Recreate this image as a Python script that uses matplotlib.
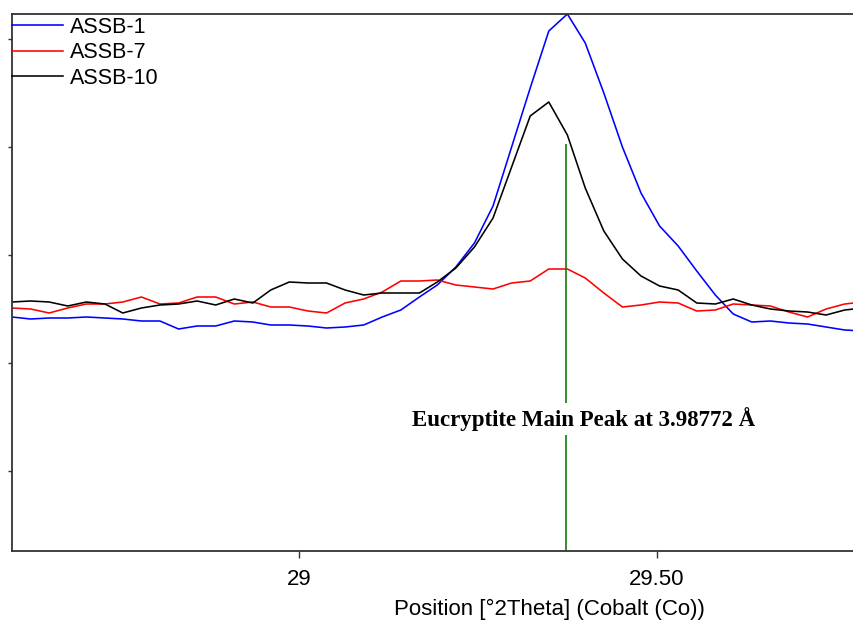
import numpy as np
import matplotlib
matplotlib.use("Agg")
import matplotlib.pyplot as plt

# ---------------- DATA ----------------
# 2theta scan positions (deg, Co radiation)
two_theta = [28.598, 28.624, 28.650, 28.676, 28.702, 28.728, 28.753, 28.779,
             28.805, 28.831, 28.857, 28.883, 28.909, 28.935, 28.960, 28.986,
             29.012, 29.038, 29.064, 29.090, 29.116, 29.142, 29.168, 29.193,
             29.219, 29.245, 29.271, 29.297, 29.323, 29.349, 29.375, 29.400,
             29.426, 29.452, 29.478, 29.504, 29.530, 29.556, 29.582, 29.607,
             29.633, 29.659, 29.685, 29.711, 29.737, 29.763, 29.789]

# intensities (arbitrary units)
assb_1 = [234, 232, 233, 233, 234, 233, 232, 230, 230, 222, 225, 225,
          230, 229, 226, 226, 225, 223, 224, 226, 234, 241, 254, 266,
          284, 308, 345, 404, 463, 520, 537, 508, 458, 404, 358, 325,
          305, 280, 256, 237, 229, 230, 228, 227, 224, 221, 220]
assb_7 = [243, 242, 238, 243, 247, 247, 249, 254, 247, 248, 254, 254,
          247, 249, 244, 244, 240, 238, 248, 252, 259, 270, 270, 271,
          266, 264, 262, 268, 270, 282, 282, 273, 258, 244, 246, 249,
          248, 240, 241, 247, 246, 245, 239, 234, 242, 247, 249]
assb_10 = [249, 250, 249, 245, 249, 247, 238, 243, 246, 247, 250, 246,
           252, 248, 261, 269, 268, 268, 261, 256, 258, 258, 258, 269,
           283, 304, 333, 384, 435, 449, 416, 363, 320, 292, 275, 265,
           261, 248, 247, 252, 246, 242, 240, 239, 236, 241, 243]

series_names = ["ASSB-1", "ASSB-7", "ASSB-10"]
series_colors = ["#0000ff", "#ff0000", "#000000"]

peak_pos = 29.3725        # eucryptite main peak
peak_label = "Eucryptite Main Peak at 3.98772 Å"
x_ticks = [29.0, 29.5]
x_ticklabels = ["29", "29.50"]
y_ticks = [80, 188, 296, 404, 512]
# --------------------------------------

plt.rcParams['font.family'] = ['Liberation Sans', 'DejaVu Sans']

fig = plt.figure(figsize=(8.54, 6.21), dpi=100)
ax = fig.add_axes([12/854, 70/621, 842/854, 537/621])

for vals, name, col in zip([assb_1, assb_7, assb_10], series_names, series_colors):
    ax.plot(two_theta, vals, color=col, lw=1.15, label=name)

ax.vlines(peak_pos, 0, 407, color="#117a11", lw=1.2)
ax.text(29.3976, 132, peak_label, ha="center", va="center",
        fontsize=16.5, fontweight="bold", family=["Liberation Serif", "DejaVu Serif"],
        bbox=dict(facecolor="white", edgecolor="none", pad=3))

ax.set_xlim(28.598, 29.776)
ax.set_ylim(0, 537)
ax.set_xticks(x_ticks)
ax.set_xticklabels(x_ticklabels, fontsize=16)
ax.set_yticks(y_ticks)
ax.set_yticklabels([])
ax.tick_params(axis="x", direction="out", length=5, width=1, colors="#333333",
               labelcolor="black", pad=8)
ax.tick_params(axis="y", direction="out", length=3, width=1, colors="#333333")

for s in ["left", "bottom", "top"]:
    ax.spines[s].set_color("#333333")
    ax.spines[s].set_linewidth(1.3)
ax.spines["right"].set_visible(False)

ax.set_xlabel("Position [°2Theta] (Cobalt (Co))", fontsize=16)
ax.xaxis.set_label_coords(0.638, -0.09)

leg = ax.legend(loc="upper left", bbox_to_anchor=(0, 1 - 3/537), frameon=False,
                borderaxespad=0, borderpad=0, handlelength=2.35,
                handletextpad=0.32, labelspacing=0.2, fontsize=15.5)

plt.savefig("out.png", dpi=100)
